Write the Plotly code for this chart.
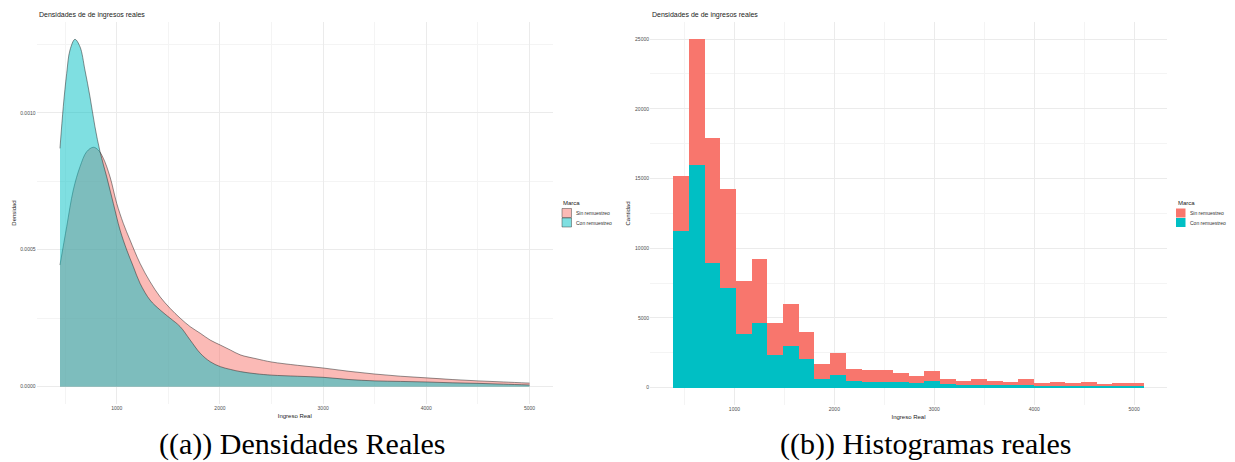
import plotly.graph_objects as go

# ---------------- DATA ----------------
# Density curves (Ingreso Real, densidad)
sin_x = [450, 515, 579, 644, 709, 773, 821, 870, 935, 1000, 1064, 1129, 1226, 1323, 1420,
         1517, 1615, 1712, 1809, 1906, 2003, 2100, 2197, 2350, 2500, 2750, 3000, 3250,
         3500, 3750, 4000, 4250, 4500, 4750, 5000]
sin_d = [0.000444, 0.000584, 0.000718, 0.000803, 0.000858, 0.000874, 0.000864, 0.000834,
         0.000766, 0.000669, 0.000596, 0.000535, 0.000450, 0.000383, 0.000328, 0.000286,
         0.000250, 0.000219, 0.000195, 0.000170, 0.000152, 0.000134, 0.000116, 0.000102,
         0.000090, 0.000078, 0.000068, 0.000056, 0.000046, 0.000038, 0.000032, 0.000026,
         0.000021, 0.000017, 0.000013]
con_x = [450, 482, 515, 547, 595, 644, 692, 741, 789, 838, 903, 967, 1032, 1097, 1161,
         1226, 1323, 1420, 1517, 1615, 1712, 1809, 1906, 2003, 2100, 2197, 2350, 2500,
         2750, 3000, 3250, 3500, 3750, 4000, 4250, 4500, 4750, 5000]
con_d = [0.000870, 0.001022, 0.001144, 0.001229, 0.001268, 0.001241, 0.001156, 0.001058,
         0.000949, 0.000858, 0.000766, 0.000669, 0.000572, 0.000499, 0.000438, 0.000377,
         0.000316, 0.000280, 0.000250, 0.000219, 0.000170, 0.000122, 0.000091, 0.000073,
         0.000063, 0.000055, 0.000047, 0.000042, 0.000038, 0.000034, 0.000026, 0.000021,
         0.000019, 0.000017, 0.000014, 0.000012, 0.000009, 0.000006]

# Histogram (30 bins)
hist_bin_start = 390.0
hist_bin_width = 156.8
hist_sin = [3970, 8990, 8920, 7075, 3780, 4590, 2270, 2970, 1980, 1080, 1575, 840, 840,
            820, 640, 525, 740, 405, 285, 385, 285, 240, 385, 190, 265, 190, 285, 120, 195, 195]
hist_con = [11235, 15990, 8960, 7170, 3850, 4615, 2345, 3010, 2035, 600, 890, 480, 430,
            430, 390, 315, 460, 240, 195, 215, 195, 170, 215, 145, 145, 145, 145, 120, 120, 120]

series_names = ["Sin remuestreo", "Con remuestreo"]
legend_title = "Marca"
chart_title = "Densidades de de ingresos reales"
captions = ["((a)) Densidades Reales", "((b)) Histogramas reales"]

# ---------------- FIGURE ----------------
W, H = 1235, 462
PINK, CYAN = "#F8766D", "#00BFC4"
PINK_A, CYAN_A = "rgba(248,118,109,0.5)", "rgba(0,191,196,0.5)"
TXT = "Liberation Sans, Arial, sans-serif"


def px_x(p):
    return p / W


def px_y(p):
    return 1 - p / H


fig = go.Figure()

# Left: densities
fig.add_trace(go.Scatter(
    x=sin_x, y=sin_d, name=series_names[0], mode="lines", line_shape="spline",
    fill="tozeroy", fillcolor=PINK_A,
    line=dict(color="rgba(40,40,40,0.85)", width=0.6),
    xaxis="x", yaxis="y", showlegend=False))
fig.add_trace(go.Scatter(
    x=con_x, y=con_d, name=series_names[1], mode="lines", line_shape="spline",
    fill="tozeroy", fillcolor=CYAN_A,
    line=dict(color="rgba(40,40,40,0.85)", width=0.6),
    xaxis="x", yaxis="y", showlegend=False))

# Right: stacked histogram
centers = [hist_bin_start + hist_bin_width * (i + 0.5) for i in range(len(hist_con))]
fig.add_trace(go.Bar(
    x=centers, y=hist_con, width=hist_bin_width, name=series_names[1],
    marker=dict(color=CYAN, line=dict(width=0)),
    xaxis="x2", yaxis="y2", showlegend=False))
fig.add_trace(go.Bar(
    x=centers, y=hist_sin, width=hist_bin_width, name=series_names[0],
    marker=dict(color=PINK, line=dict(width=0)),
    xaxis="x2", yaxis="y2", showlegend=False))

axis_common = dict(
    showline=False, zeroline=False, ticks="", automargin=False,
    gridcolor="#EBEBEB", gridwidth=0.8,
    tickfont=dict(size=5, color="#4D4D4D", family=TXT),
    title_font=dict(size=6, color="#222222", family=TXT),
)

fig.update_layout(
    width=W, height=H, margin=dict(l=0, r=0, t=0, b=0),
    paper_bgcolor="white", plot_bgcolor="white",
    barmode="stack", bargap=0, showlegend=False,
    font=dict(family=TXT),
    xaxis=dict(domain=[px_x(36.5), px_x(553)], range=[222.5, 5227.5],
               tickvals=[1000, 2000, 3000, 4000, 5000],
               minor=dict(showgrid=True, gridcolor="#F4F4F4", tickvals=[500, 1500, 2500, 3500, 4500]),
               title=dict(text="Ingreso Real", standoff=3), anchor="y", **axis_common),
    yaxis=dict(domain=[px_y(404), px_y(22)], range=[-0.0000634, 0.0013314],
               tickvals=[0, 0.0005, 0.0010], ticktext=["0.0000", "0.0005", "0.0010"],
               minor=dict(showgrid=True, gridcolor="#F4F4F4", tickvals=[0.00025, 0.00075, 0.00125]),
               title=dict(text="Densidad", standoff=3), anchor="x", **axis_common),
    xaxis2=dict(domain=[px_x(650), px_x(1167)], range=[155, 5329],
                tickvals=[1000, 2000, 3000, 4000, 5000],
                minor=dict(showgrid=True, gridcolor="#F4F4F4", tickvals=[500, 1500, 2500, 3500, 4500]),
                title=dict(text="Ingreso Real", standoff=3), anchor="y2", **axis_common),
    yaxis2=dict(domain=[px_y(405), px_y(22)], range=[-1249, 26229],
                tickvals=[0, 5000, 10000, 15000, 20000, 25000],
                ticktext=["0", "5000", "10000", "15000", "20000", "25000"],
                minor=dict(showgrid=True, gridcolor="#F4F4F4",
                           tickvals=[2500, 7500, 12500, 17500, 22500]),
                title=dict(text="Cantidad", standoff=3), anchor="x2", **axis_common),
)

# Chart titles
for xp in (37, 650):
    fig.add_annotation(text=chart_title, x=px_x(xp), y=px_y(15), xref="paper", yref="paper",
                       xanchor="left", yanchor="middle", showarrow=False,
                       font=dict(size=7, color="#222222", family=TXT))

# Legends (ggplot style keys)
legend_specs = [
    (561, 562, [PINK_A, CYAN_A], "rgba(60,60,60,0.8)"),
    (1176, 1176, [PINK, CYAN], None),
]
for tx, kx, fills, outline in legend_specs:
    fig.add_annotation(text=legend_title, x=px_x(tx), y=px_y(203), xref="paper", yref="paper",
                       xanchor="left", yanchor="middle", showarrow=False,
                       font=dict(size=6, color="#222222", family=TXT))
    for i, (name, fc) in enumerate(zip(series_names, fills)):
        y0 = 208.5 + i * 9.5
        fig.add_shape(type="rect", xref="paper", yref="paper",
                      x0=px_x(kx), x1=px_x(kx + 9.5), y0=px_y(y0), y1=px_y(y0 + 9),
                      fillcolor=fc,
                      line=dict(color=outline, width=0.6) if outline else dict(width=0))
        fig.add_annotation(text=name, x=px_x(kx + 12), y=px_y(y0 + 4.5), xref="paper", yref="paper",
                           xanchor="left", yanchor="middle", showarrow=False,
                           font=dict(size=5, color="#333333", family=TXT))

# Captions
for txt, xc in zip(captions, (302, 926)):
    fig.add_annotation(text=txt, x=px_x(xc), y=0.0, xref="paper", yref="paper",
                       xanchor="center", yanchor="bottom", showarrow=False, borderpad=0,
                       font=dict(size=30, color="#000000", family="Liberation Serif, DejaVu Serif, serif"))

fig.write_html("out.html")
